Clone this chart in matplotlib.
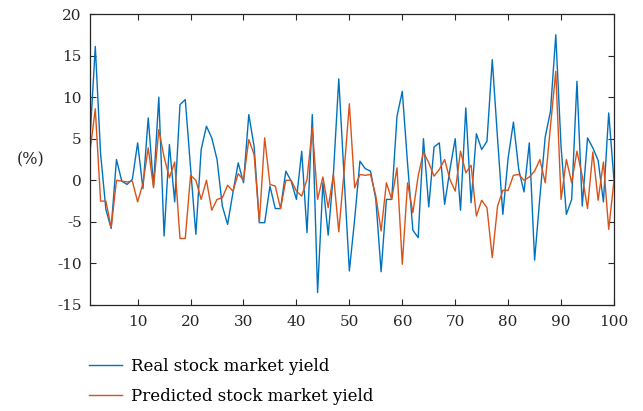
import numpy as np
import matplotlib
matplotlib.use("Agg")
import matplotlib.pyplot as plt

# day index 1..100
days = np.arange(1, 101)

real_yield = [
    5.0, 16.1, 3.2, -3.5, -5.8, 2.5, -0.1, -0.5, 0.1, 4.5,
    -1.0, 7.5, -0.7, 10.0, -6.7, 4.3, -2.6, 9.1, 9.7, 1.5,
    -6.5, 3.7, 6.5, 5.1, 2.5, -3.1, -5.3, -1.5, 2.1, -0.3,
    7.9, 4.1, -5.1, -5.1, -0.7, -3.4, -3.4, 1.1, -0.1, -2.3,
    3.5, -6.3, 7.9, -13.5, -0.3, -6.6, 0.9, 12.2, 0.5, -10.9,
    -4.7, 2.3, 1.4, 1.1, -2.3, -11.0, -2.3, -2.3, 7.7, 10.7,
    2.0, -6.0, -6.9, 5.0, -3.2, 4.0, 4.5, -2.9, 1.3, 5.0,
    -3.6, 8.7, -2.7, 5.6, 3.7, 4.7, 14.5, 5.0, -4.1, 2.7,
    7.0, 1.3, -1.4, 4.5, -9.6, -2.0, 5.2, 8.3, 17.5, 4.0,
    -4.1, -2.3, 11.9, -3.1, 5.1, 3.9, 2.4, -2.6, 8.1, 0.0,
]

predicted_yield = [
    3.5, 8.6, -2.5, -2.5, -5.7, 0.0, -0.1, -0.2, -0.1, -2.6,
    -0.4, 3.9, -0.9, 6.1, 2.8, 0.3, 2.2, -7.0, -7.0, 0.6,
    0.0, -2.3, 0.0, -3.6, -2.3, -2.1, -0.6, -1.3, 0.8, 0.0,
    4.9, 3.1, -5.0, 5.1, -0.5, -0.7, -3.4, 0.0, 0.0, -1.3,
    -1.9, 0.1, 6.3, -2.3, 0.4, -3.3, 0.7, -6.2, 1.0, 9.2,
    -0.9, 0.7, 0.6, 0.7, -1.9, -6.1, -0.3, -2.3, 1.5, -10.1,
    -0.3, -3.9, 0.5, 3.4, 2.1, 0.5, 1.3, 2.5, 0.1, -1.3,
    3.5, 0.9, 1.8, -4.3, -2.4, -3.3, -9.3, -3.1, -1.2, -1.2,
    0.6, 0.7, 0.0, 0.4, 1.1, 2.5, -0.3, 6.5, 13.1, -2.3,
    2.5, -0.3, 3.5, 0.5, -3.4, 3.4, -2.4, 2.2, -5.9, 0.0,
]

x_ticks = [10, 20, 30, 40, 50, 60, 70, 80, 90, 100]
y_ticks = [-15, -10, -5, 0, 5, 10, 15, 20]

plt.rcParams["font.family"] = ["DejaVu Serif"]
plt.rcParams["axes.unicode_minus"] = False

fig = plt.figure(figsize=(6.43, 4.11), dpi=100)
ax = fig.add_axes([90 / 643, 1 - 305 / 411, 524 / 643, 291 / 411])

ax.plot(days, real_yield, color="#0072BD", lw=1.0, label="Real stock market yield")
ax.plot(days, predicted_yield, color="#D95319", lw=1.0, label="Predicted stock market yield")

ax.set_xlim(1, 100)
ax.set_ylim(-15, 20)
ax.set_xticks(x_ticks)
ax.set_yticks(y_ticks)
ax.tick_params(direction="in", length=4, width=0.8, top=True, right=True,
               labelsize=11, colors="#262626")
ax.tick_params(axis="x", pad=7)
ax.tick_params(axis="y", pad=6)
for sp in ax.spines.values():
    sp.set_color("#262626")
    sp.set_linewidth(0.9)

fig.text(31 / 643, 1 - 160 / 411, "(%)", fontsize=11.5, color="#262626",
         ha="center", va="center")

fig.legend(loc="upper left", bbox_to_anchor=(89 / 643, 1 - 358 / 411),
           frameon=False, fontsize=12, handlelength=2.0, handletextpad=0.5,
           labelspacing=0.75, borderpad=0, borderaxespad=0)

fig.savefig("out.png", dpi=100)
